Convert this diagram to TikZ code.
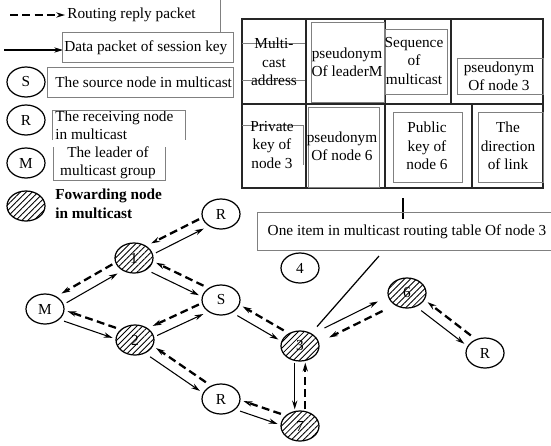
\documentclass[tikz,border=0pt]{standalone}
\usepackage{fontspec}
\setmainfont{Liberation Serif}
\usetikzlibrary{
    arrows.meta,
    calc,
    positioning,
    shapes.geometric,
    patterns.meta
}
\tikzset{
    % Colors
    box color/.style={black!50},
    table color/.style={black!85},
    %
    % Nodes
    member/.style={ellipse,draw,line width=0.7pt,minimum width=0.76cm,minimum height=0.6cm,inner sep=0pt},
    forwarder/.style={member,pattern={Lines[angle=45,distance=2.4pt,line width=0.5pt]}},
    legend text/.style={anchor=west,inner sep=0pt},
    cell/.style={align=center,inner sep=0pt},
    textbox/.style={box color,line width=0.5pt},
    rule/.style={table color,line width=1pt},
    %
    % Arrows
    arrow tip/.tip={Stealth[length=5pt,width=3pt]},
    data/.style={->,>={arrow tip},line width=0.6pt},
    reply/.style={->,>={arrow tip},line width=1.3pt,dash pattern=on 4.5pt off 2.5pt},
    side/.style={to path={($(\tikztostart)!#1!90:(\tikztotarget)$) -- ($(\tikztotarget)!#1!-90:(\tikztostart)$)}},
    gap/.style={shorten <=#1,shorten >=#1},
    gap/.default=12.5pt
}
\tikzstyle{every node}=[font=\fontsize{8.7}{10.5}\selectfont]

\begin{document}
\begin{tikzpicture}[x=0.2mm,y=-0.2mm]
        \useasboundingbox (0,0) rectangle (551,445);
        % legend
        \coordinate (reply start) at (10,15);
        \coordinate (reply end) at (65,15);
        \draw[reply] (reply start) -- (reply end);
        \node[legend text] (reply label) at (67,15) {Routing reply packet};
        \coordinate (data start) at (4,50);
        \coordinate (data end) at (63,50);
        \draw[data] (data start) -- (data end);
        \node[legend text] (data label) at (64,48) {Data packet of session key};
        \node[member] (key s) at (26,82) {S};
        \node[legend text] (key s label) at (55,82) {The source node in multicast};
        \node[member] (key r) at (26,120) {R};
        \node[legend text,align=left] (key r label) at (55,125) {The receiving node\\in multicast};
        \node[member] (key m) at (26,163) {M};
        \node[cell] (key m label) at (108,163) {The leader of\\multicast group};
        \node[forwarder] (key f) at (26,206) {};
        \node[legend text,align=left,font=\fontsize{8.7}{10.5}\selectfont\bfseries] (key f label) at (55,204) {Fowarding node\\in multicast};
        \draw[textbox] (220,0) -- (220,32);
        \draw[textbox] (62,32) rectangle (233,62);
        \draw[textbox] (47,67) rectangle (233,97);
        \draw[textbox] (52,140) -- (52,110) -- (185,110) -- (185,140);
        \draw[textbox] (53,147) -- (53,180) -- (165,180) -- (165,147);
        % routing table entry
        \draw[rule] (242,19) rectangle (543,188);
        \draw[rule] (242,104) -- (543,104);
        \draw[rule] (306,19) -- (306,188);
        \draw[rule] (385,19) -- (385,188);
        \draw[rule] (451,19) -- (451,104);
        \draw[rule] (472,104) -- (472,188);
        \draw[textbox] (242,43) -- (305,43);
        \draw[textbox] (242,80) -- (305,80);
        \draw[textbox] (311,22) rectangle (384,102);
        \draw[textbox] (385,29) rectangle (447,94);
        \draw[textbox] (457,58) rectangle (543,94);
        \draw[textbox] (242,125) -- (303,125) -- (303,165);
        \draw[textbox] (308,107) rectangle (379,187);
        \draw[textbox] (393,112) rectangle (462,182);
        \draw[textbox] (478,112) rectangle (543,182);
        \node[cell] (addr) at (274,62) {Multi-\\cast\\address};
        \node[cell] (leader) at (347,62) {pseudonym\\Of leaderM};
        \node[cell] (seq) at (414,61) {Sequence\\of\\multicast};
        \node[cell] (pn3) at (499,76) {pseudonym\\Of node 3};
        \node[cell] (priv) at (272,145) {Private\\key of\\node 3};
        \node[cell] (pn6) at (342,146) {pseudonym\\Of node 6};
        \node[cell] (pub) at (427,146) {Public\\key of\\node 6};
        \node[cell] (dir) at (508,146) {The\\direction\\of link};
        \coordinate (tick top) at (403,198);
        \coordinate (tick bottom) at (403,219);
        \draw[line width=1.1pt] (tick top) -- (tick bottom);
        \draw[textbox] (551,212) -- (257,212) -- (257,250) -- (551,250);
        \node[cell] (item) at (407,232) {One item in multicast routing table Of node 3};
        % network
        \node[member] (r1) at (221,214) {R};
        \node[forwarder] (n1) at (134,258) {1};
        \node[member] (m) at (45,309) {M};
        \node[member] (s) at (221,300) {S};
        \node[forwarder] (n2) at (135,340) {2};
        \node[member] (r2) at (221,399) {R};
        \node[member] (n4) at (300,268) {4};
        \node[forwarder] (n3) at (300,346) {3};
        \node[forwarder] (n7) at (300,426) {7};
        \node[forwarder] (n6) at (407,293) {6};
        \node[member] (r3) at (485,353) {R};
        \foreach \a/\b in {n1/r1, m/n1, n1/s, m/n2, n2/s, n2/r2, s/n3, r2/n7, n6/r3} {
            \draw[data,gap] (\a) to[side=-3pt] (\b);
            \draw[reply,gap] (\b) to[side=-3pt] (\a);
        }
        \draw[data,gap=9.5pt] (n3) to[side=-3pt] (n7);
        \draw[reply,gap=9.5pt] (n7) to[side=-3pt] (n3);
        \draw[data,gap=17pt] (n3) to[side=3pt] (n6);
        \draw[reply,gap=17pt] (n6) to[side=3pt] (n3);
        \coordinate (pointer) at (379,256);
        \draw[line width=0.7pt,shorten <=5pt] (n3) -- (pointer);
    \end{tikzpicture}
\end{document}
